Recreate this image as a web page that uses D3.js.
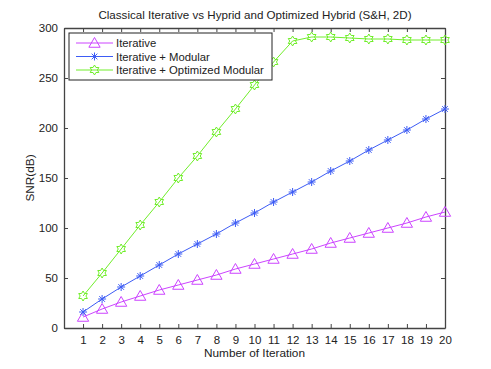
<!DOCTYPE html>
<html>
<head>
<meta charset="utf-8">
<script src="https://cdn.jsdelivr.net/npm/d3@7"></script>
<style>
  body { margin: 0; background: #fff; }
  text { font-family: "Liberation Sans", Arial, sans-serif; fill: #222; }
</style>
</head>
<body>
<div id="canvas"></div>
<script>
const iterations = d3.range(1, 21);
const iterative = [11, 19, 26, 32, 38, 43, 48, 53, 59, 64, 69, 74, 79, 85, 90, 95, 100, 105, 111, 116];
const modular = [16, 29, 41, 52, 63, 74, 84, 94, 105, 115, 126, 136, 146, 157, 167, 178, 188, 198, 209, 219];
const optimized = [32, 55, 79, 103, 126, 150, 172, 196, 219, 243, 266, 287, 291, 291, 290, 289, 289, 288, 288, 288];
const yTicks = [0, 50, 100, 150, 200, 250, 300];
const seriesNames = ["Iterative", "Iterative + Modular", "Iterative + Optimized Modular"];

const width = 491, height = 369;
const margin = { top: 28, left: 64, bottom: 41, right: 46 };
const iwidth = width - margin.left - margin.right;
const iheight = height - margin.top - margin.bottom;

const svg = d3.select("#canvas").append("svg")
  .attr("width", width).attr("height", height);

const g = svg.append("g").attr("transform", `translate(${margin.left},${margin.top})`);

const x = d3.scaleLinear().domain([0, 20]).range([0, iwidth]);
const y = d3.scaleLinear().domain([0, 300]).range([iheight, 0]);

const series = [
  { name: seriesNames[0], values: iterative, color: "#cc44ff", marker: "tri" },
  { name: seriesNames[1], values: modular, color: "#3d5cf5", marker: "star" },
  { name: seriesNames[2], values: optimized, color: "#70ee2a", marker: "hex" }
];

// axes (MATLAB style box, ticks inward)
const tickLen = 4;
g.append("g").attr("class", "x--axis")
  .attr("transform", `translate(0,${iheight})`)
  .call(d3.axisBottom(x).tickValues(iterations).tickSizeInner(-tickLen).tickSizeOuter(0).tickPadding(8));
g.append("g").attr("class", "x--top")
  .call(d3.axisTop(x).tickValues(iterations).tickSizeInner(-tickLen).tickSizeOuter(0).tickFormat(""));
g.append("g").attr("class", "y--axis")
  .call(d3.axisLeft(y).tickValues(yTicks).tickSizeInner(-tickLen).tickSizeOuter(0).tickPadding(6));
g.append("g").attr("class", "y--right")
  .attr("transform", `translate(${iwidth},0)`)
  .call(d3.axisRight(y).tickValues(yTicks).tickSizeInner(-tickLen).tickSizeOuter(0).tickFormat(""));

g.selectAll(".domain").attr("stroke", "#444").attr("stroke-width", 1.3);
g.selectAll(".tick line").attr("stroke", "#444");
g.selectAll(".tick text").style("font-size", "11.5px").attr("fill", "#222");

function markerPath(type) {
  if (type === "tri") {
    return d3.symbol().type(d3.symbolTriangle).size(55)();
  }
  if (type === "star") {
    let p = "";
    for (let i = 0; i < 4; i++) {
      const a = i * Math.PI / 4;
      const dx = 4 * Math.cos(a), dy = 4 * Math.sin(a);
      p += `M${-dx},${-dy}L${dx},${dy}`;
    }
    return p;
  }
  // hexagram
  const r = 5, pts = [];
  for (let i = 0; i < 12; i++) {
    const a = -Math.PI / 2 + i * Math.PI / 6;
    const rr = i % 2 === 0 ? r : r * 0.58;
    pts.push([rr * Math.cos(a), rr * Math.sin(a)]);
  }
  return "M" + pts.map(p => p.join(",")).join("L") + "Z";
}

const line = d3.line().x((d, i) => x(iterations[i])).y(d => y(d));

series.forEach(s => {
  g.append("path").datum(s.values)
    .attr("fill", "none").attr("stroke", s.color).attr("stroke-width", 1)
    .attr("d", line);
  g.selectAll(null).data(s.values).enter().append("path")
    .attr("transform", (d, i) => `translate(${x(iterations[i])},${y(d) + (s.marker === "tri" ? 1 : 0)})`)
    .attr("d", markerPath(s.marker))
    .attr("fill", "none").attr("stroke", s.color).attr("stroke-width", 1);
});

// legend
const legend = svg.append("g").attr("transform", "translate(69,33)");
legend.append("rect").attr("width", 203).attr("height", 47)
  .attr("fill", "#fff").attr("stroke", "#222").attr("stroke-width", 1);
series.forEach((s, i) => {
  const ly = 10 + i * 13.5;
  legend.append("line").attr("x1", 7).attr("x2", 44).attr("y1", ly).attr("y2", ly)
    .attr("stroke", s.color);
  legend.append("path").attr("transform", `translate(25.5,${ly + (s.marker === "tri" ? 1 : 0)})`)
    .attr("d", markerPath(s.marker)).attr("fill", "none").attr("stroke", s.color);
  legend.append("text").attr("x", 47).attr("y", ly + 4.2)
    .style("font-size", "11.3px").text(s.name);
});

// labels
svg.append("text").attr("x", margin.left + iwidth / 2 + 0.5).attr("y", 19)
  .attr("text-anchor", "middle").style("font-size", "11.6px")
  .text("Classical Iterative vs Hyprid and Optimized Hybrid (S&H, 2D)");
svg.append("text").attr("x", margin.left + iwidth / 2).attr("y", 357)
  .attr("text-anchor", "middle").style("font-size", "11.8px")
  .text("Number of Iteration");
svg.append("text").attr("transform", `translate(34,${margin.top + iheight / 2}) rotate(-90)`)
  .attr("text-anchor", "middle").style("font-size", "11.8px")
  .text("SNR(dB)");
</script>
</body>
</html>
